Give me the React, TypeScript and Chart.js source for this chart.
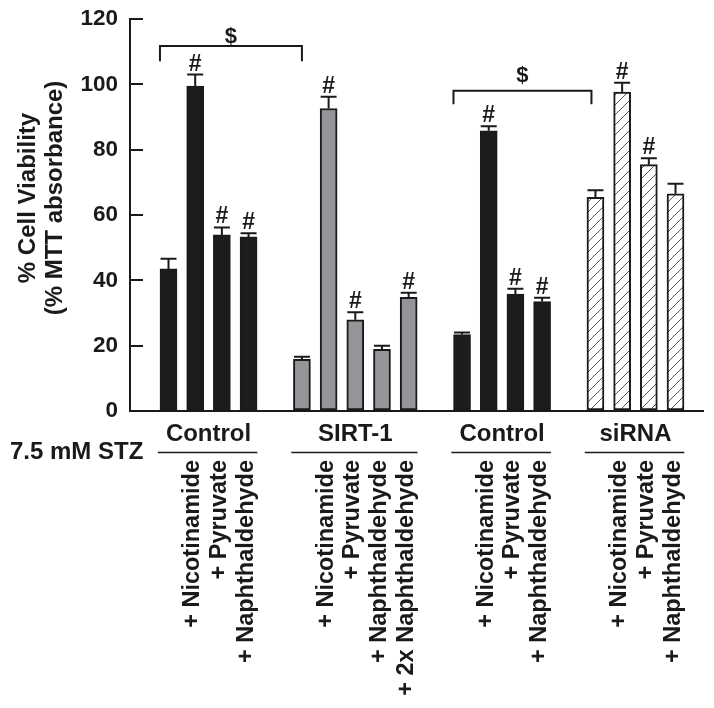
import React, { useEffect, useRef } from 'react';
import { Chart, registerables } from 'chart.js';

Chart.register(...registerables);

const FONT = '"Liberation Sans", Arial, Helvetica, sans-serif';
const INK = '#1a1a1a';

// ---- data ----
const groupNames = ['Control', 'SIRT-1', 'Control', 'siRNA'];
const controlTreatments = ['', '+ Nicotinamide', '+ Pyruvate', '+ Naphthaldehyde'];
const sirtTreatments = ['', '+ Nicotinamide', '+ Pyruvate', '+ Naphthaldehyde', '+ 2x Naphthaldehyde'];
const controlValues = [43.5, 99.5, 53.9, 53.3];
const controlErrors = [3.1, 3.5, 2.3, 1.1];
const controlSig = [false, true, true, true];
const sirtValues = [15.8, 92.6, 27.9, 18.9, 34.8];
const sirtErrors = [0.8, 3.6, 2.3, 1.1, 1.4];
const sirtSig = [false, true, true, false, true];
const control2Values = [23.4, 85.8, 35.8, 33.5];
const control2Errors = [0.6, 1.4, 1.6, 1.2];
const control2Sig = [false, true, true, true];
const sirnaValues = [65.4, 97.6, 75.4, 66.5];
const sirnaErrors = [2.2, 2.9, 2.0, 3.1];
const sirnaSig = [false, true, true, false];
const fillKinds = ['black', 'gray', 'black', 'hatch'];
const yTitle = ['% Cell Viability', '(% MTT absorbance)'];
const stzLabel = '7.5 mM STZ';
// brackets: x in slot units, y in data units
const bracketFrom = [-0.32, 10.68];
const bracketTo = [5.0, 15.85];
const bracketY = [111.7, 98.0];
const bracketDrop = [4.6, 4.1];
const bracketLabelY = [114.6, 102.5];
const bracketLabel = ['$', '$'];

type Bar = { x: number; y: number; err: number; sig: boolean; label: string; group: number };

const groupDefs = [
  { labels: controlTreatments, values: controlValues, errors: controlErrors, sig: controlSig },
  { labels: sirtTreatments, values: sirtValues, errors: sirtErrors, sig: sirtSig },
  { labels: controlTreatments, values: control2Values, errors: control2Errors, sig: control2Sig },
  { labels: controlTreatments, values: sirnaValues, errors: sirnaErrors, sig: sirnaSig },
];

const bars: Bar[] = [];
const groupRanges: { start: number; end: number }[] = [];
(() => {
  let slot = 0;
  groupDefs.forEach((g, gi) => {
    g.values.forEach((v, i) => {
      bars.push({ x: slot + i, y: v, err: g.errors[i], sig: g.sig[i], label: g.labels[i], group: gi });
    });
    groupRanges.push({ start: slot, end: slot + g.values.length - 1 });
    slot += g.values.length + 1;
  });
})();

function makeHatch(ctx: CanvasRenderingContext2D) {
  const c = document.createElement('canvas');
  c.width = 10;
  c.height = 10;
  const g = c.getContext('2d')!;
  g.fillStyle = '#ffffff';
  g.fillRect(0, 0, 10, 10);
  g.strokeStyle = '#555555';
  g.lineWidth = 1;
  g.beginPath();
  g.moveTo(-1, 11);
  g.lineTo(11, -1);
  g.moveTo(-1, 1);
  g.lineTo(1, -1);
  g.moveTo(9, 11);
  g.lineTo(11, 9);
  g.stroke();
  return ctx.createPattern(c, 'repeat');
}

const annotations = {
  id: 'annotations',
  afterDatasetsDraw(chart: any) {
    const { ctx, scales } = chart;
    const x = scales.x;
    const y = scales.y;
    ctx.save();
    ctx.strokeStyle = INK;
    ctx.fillStyle = INK;
    ctx.lineWidth = 2;
    bars.forEach((b) => {
      const cx = x.getPixelForValue(b.x);
      const top = y.getPixelForValue(b.y);
      const et = y.getPixelForValue(b.y + b.err);
      ctx.beginPath();
      ctx.moveTo(cx, top);
      ctx.lineTo(cx, et);
      ctx.moveTo(cx - 8, et);
      ctx.lineTo(cx + 8, et);
      ctx.stroke();
      if (b.sig) {
        ctx.font = `bold 23px ${FONT}`;
        ctx.textAlign = 'center';
        ctx.textBaseline = 'alphabetic';
        ctx.fillText('#', cx, et - 4);
      }
    });
    bracketFrom.forEach((f, i) => {
      const x1 = x.getPixelForValue(f);
      const x2 = x.getPixelForValue(bracketTo[i]);
      const yy = y.getPixelForValue(bracketY[i]);
      const yd = y.getPixelForValue(bracketY[i] - bracketDrop[i]);
      ctx.beginPath();
      ctx.moveTo(x1, yd);
      ctx.lineTo(x1, yy);
      ctx.lineTo(x2, yy);
      ctx.lineTo(x2, yd);
      ctx.stroke();
      ctx.font = `bold 22px ${FONT}`;
      ctx.textAlign = 'center';
      ctx.textBaseline = 'middle';
      ctx.fillText(bracketLabel[i], (x1 + x2) / 2, y.getPixelForValue(bracketLabelY[i]));
    });
    ctx.restore();
  },
  afterDraw(chart: any) {
    const { ctx, scales } = chart;
    const x = scales.x;
    ctx.save();
    ctx.fillStyle = INK;
    ctx.strokeStyle = INK;
    // group labels and underlines
    groupRanges.forEach((r, gi) => {
      const c = (x.getPixelForValue(r.start) + x.getPixelForValue(r.end)) / 2;
      ctx.font = `bold 24px ${FONT}`;
      ctx.textAlign = 'center';
      ctx.textBaseline = 'alphabetic';
      ctx.fillText(groupNames[gi], c, 441);
      ctx.lineWidth = 1.5;
      ctx.beginPath();
      ctx.moveTo(x.getPixelForValue(r.start - 0.4), 452.5);
      ctx.lineTo(x.getPixelForValue(r.end + 0.33), 452.5);
      ctx.stroke();
    });
    // STZ label
    ctx.font = `bold 24px ${FONT}`;
    ctx.textAlign = 'left';
    ctx.textBaseline = 'alphabetic';
    ctx.fillText(stzLabel, 10, 459);
    // rotated treatment labels
    ctx.font = `bold 23.5px ${FONT}`;
    bars.forEach((b) => {
      if (!b.label) return;
      const cx = x.getPixelForValue(b.x);
      ctx.save();
      ctx.translate(cx + 4, 460);
      ctx.rotate(-Math.PI / 2);
      ctx.textAlign = 'right';
      ctx.textBaseline = 'alphabetic';
      ctx.fillText(b.label, 0, 0);
      ctx.restore();
    });
    // y title
    ctx.font = `bold 24px ${FONT}`;
    const baselines = [35, 62];
    yTitle.forEach((t, i) => {
      ctx.save();
      ctx.translate(baselines[i], 198);
      ctx.rotate(-Math.PI / 2);
      ctx.textAlign = 'center';
      ctx.textBaseline = 'alphabetic';
      ctx.fillText(t, 0, 0);
      ctx.restore();
    });
    ctx.restore();
  },
};

export default function App() {
  const ref = useRef<HTMLCanvasElement | null>(null);
  useEffect(() => {
    document.body.style.margin = '0';
    const canvas = ref.current!;
    const ctx2d = canvas.getContext('2d')!;
    const hatch = makeHatch(ctx2d);
    const fills: any = { black: '#1c1c1c', gray: '#939598', hatch };
    const chart = new Chart(canvas, {
      type: 'bar',
      data: {
        datasets: [
          {
            data: bars.map((b) => ({ x: b.x, y: b.y })) as any,
            backgroundColor: bars.map((b) => fills[fillKinds[b.group]]),
            borderColor: INK,
            borderWidth: 2,
            borderSkipped: false,
            barThickness: 17,
          },
        ],
      },
      options: {
        animation: false,
        responsive: false,
        devicePixelRatio: 1,
        layout: { padding: { top: 19, right: 11, bottom: 297, left: 0 } },
        plugins: { legend: { display: false }, tooltip: { enabled: false } },
        scales: {
          x: {
            type: 'linear',
            offset: false,
            min: -1.443,
            max: 20.03,
            grid: { display: false, offset: false },
            border: { display: true, color: INK, width: 2 },
            ticks: { display: false },
            afterFit: (s: any) => {
              s.height = 0;
              s.paddingLeft = 0;
              s.paddingRight = 0;
            },
          },
          y: {
            min: 0,
            max: 120,
            ticks: {
              stepSize: 20,
              color: INK,
              padding: 25,
              font: { family: FONT, size: 22.5, weight: 'bold' },
            },
            grid: { drawOnChartArea: false, drawTicks: true, tickLength: -13, color: INK, lineWidth: 2 },
            border: { display: true, color: INK, width: 2 },
            afterFit: (s: any) => {
              s.width = 130;
              s.paddingTop = 0;
              s.paddingBottom = 0;
            },
          },
        },
      } as any,
      plugins: [annotations],
    });
    return () => chart.destroy();
  }, []);
  return (
    <div style={{ width: 714, height: 708 }}>
      <canvas ref={ref} width={714} height={708} style={{ display: 'block' }} />
    </div>
  );
}
